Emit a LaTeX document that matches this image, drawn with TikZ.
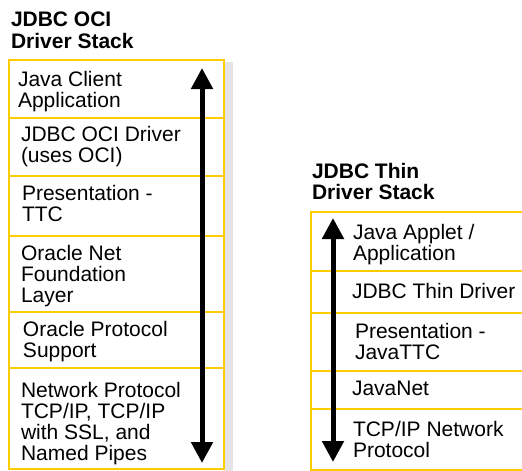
\documentclass[tikz,border=0pt]{standalone}
\usepackage{fontspec}
\setmainfont{Liberation Sans}
\usetikzlibrary{arrows.meta}
\definecolor{oraYellow}{RGB}{255,204,0}
\definecolor{shadowGray}{RGB}{228,228,228}
\begin{document}
\begin{tikzpicture}[x=1pt,y=-1pt,
  cell/.style={draw=oraYellow, line width=2.6pt, rectangle, inner sep=0pt, outer sep=0pt, anchor=north west},
  lbl/.style={anchor=base west, inner sep=0pt, outer sep=0pt, align=left, font=\fontsize{21pt}{21pt}\selectfont},
  ttl/.style={lbl, font=\fontsize{21pt}{21.5pt}\selectfont\bfseries},
  bigarrow/.style={line width=5pt, {Triangle[width=21pt,length=21pt]}-{Triangle[width=21pt,length=21pt]}}
]
\useasboundingbox (0,0) rectangle (522,471);
% shadow
\fill[shadowGray] (225,62) rectangle (233,471);
% left stack cells
\node[cell, minimum width=215pt, minimum height=58pt] (L1) at (9,60) {};
\node[cell, minimum width=215pt, minimum height=58pt] (L2) at (9,118) {};
\node[cell, minimum width=215pt, minimum height=60pt] (L3) at (9,176) {};
\node[cell, minimum width=215pt, minimum height=76pt] (L4) at (9,236) {};
\node[cell, minimum width=215pt, minimum height=56pt] (L5) at (9,312) {};
\node[cell, minimum width=215pt, minimum height=101pt] (L6) at (9,368) {};
% right stack cells
\node[cell, minimum width=213pt, minimum height=59pt] (R1) at (311,212) {};
\node[cell, minimum width=213pt, minimum height=42pt] (R2) at (311,271) {};
\node[cell, minimum width=213pt, minimum height=58pt] (R3) at (311,313) {};
\node[cell, minimum width=213pt, minimum height=38pt] (R4) at (311,371) {};
\node[cell, minimum width=213pt, minimum height=61pt] (R5) at (311,409) {};
% titles (anchor = baseline of last line)
\node[ttl] (T1) at (11,48) {JDBC OCI\\Driver Stack};
\node[ttl] (T2) at (312,199.5) {JDBC Thin\\Driver Stack};
% left labels
\node[lbl] (tL1) at (18,107) {Java Client\\Application};
\node[lbl] (tL2) at (21,162.5) {JDBC OCI Driver\\(uses OCI)};
\node[lbl] (tL3) at (22,221) {Presentation -\\TTC};
\node[lbl] (tL4) at (21,302) {Oracle Net\\Foundation\\Layer};
\node[lbl] (tL5) at (23,357) {Oracle Protocol\\Support};
\node[lbl] (tL6) at (21,460) {Network Protocol\\TCP/IP, TCP/IP\\with SSL, and\\Named Pipes};
% right labels
\node[lbl] (tR1) at (353,260) {Java Applet /\\Application};
\node[lbl] (tR2) at (352,298) {JDBC Thin Driver};
\node[lbl] (tR3) at (355,359) {Presentation -\\JavaTTC};
\node[lbl] (tR4) at (352,395) {JavaNet};
\node[lbl] (tR5) at (353,457) {TCP/IP Network\\Protocol};
% arrows
\coordinate (aLtop) at (202,68);
\coordinate (aLbot) at (202,463);
\coordinate (aRtop) at (333,218);
\coordinate (aRbot) at (333,462);
\draw[bigarrow] (aLtop) -- (aLbot);
\draw[bigarrow] (aRtop) -- (aRbot);
\end{tikzpicture}
\end{document}
